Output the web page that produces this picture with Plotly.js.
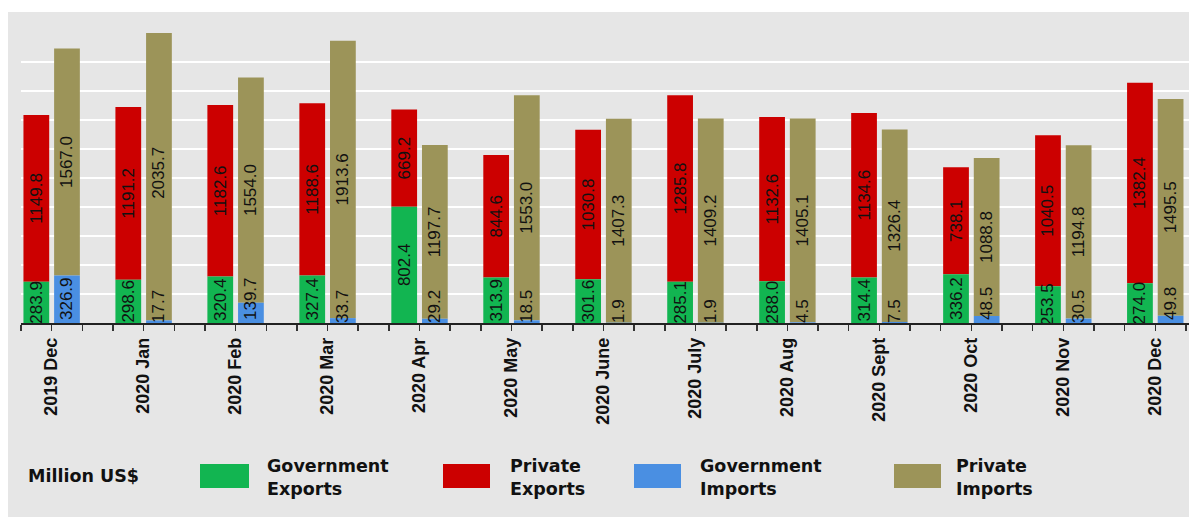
<!DOCTYPE html>
<html><head><meta charset="utf-8">
<script src="https://cdn.plot.ly/plotly-3.0.1.min.js"></script>
<style>html,body{margin:0;padding:0;background:#fff;}#chart{width:1189px;height:517px;}</style>
</head><body><div id="chart"></div>
<script>
// ---- data ----
const months = ['2019 Dec','2020 Jan','2020 Feb','2020 Mar','2020 Apr','2020 May','2020 June','2020 July','2020 Aug','2020 Sept','2020 Oct','2020 Nov','2020 Dec'];
const govExports  = [283.9, 298.6, 320.4, 327.4, 802.4, 313.9, 301.6, 285.1, 288.0, 314.4, 336.2, 253.5, 274.0];
const privExports = [1149.8, 1191.2, 1182.6, 1188.6, 669.2, 844.6, 1030.8, 1285.8, 1132.6, 1134.6, 738.1, 1040.5, 1382.4];
const govImports  = [326.9, 17.7, 139.7, 33.7, 29.2, 18.5, 1.9, 1.9, 4.5, 7.5, 48.5, 30.5, 49.8];
const privImports = [1567.0, 2035.7, 1554.0, 1913.6, 1197.7, 1553.0, 1407.3, 1409.2, 1405.1, 1326.4, 1088.8, 1194.8, 1495.5];
const seriesNames = ['Government Exports','Private Exports','Government Imports','Private Imports'];
const legendLines = [['Government','Exports'],['Private','Exports'],['Government','Imports'],['Private','Imports']];
const unitLabel = 'Million US$';

// ---- layout helpers ----
const W = 1189, H = 517;
const M = {l:21, r:0, t:33, b:194};
const PW = W - M.l - M.r, PH = H - M.t - M.b;
const px2x = p => (p - M.l) / PW;
const py2y = p => (M.t + PH - p) / PH;

const SLOTS = 3, BARW = 0.84;
const expX = months.map((m,i)=>i*SLOTS+0.5);
const impX = months.map((m,i)=>i*SLOTS+1.5);
const fmt = v => v.toFixed(1);
const labelFont = {family:'Arial, Liberation Sans, sans-serif', size:17, color:'#111'};
const colors = ['#12b551', '#cc0000', '#4a8fe2', '#9c9459'];

function barTrace(name, x, y, base, color, anchor){
  const t = {type:'bar', name:name, x:x, y:y, width:BARW,
    marker:{color:color, line:{width:0}},
    text:y.map(fmt), textposition:'inside', insidetextanchor:anchor,
    textangle:-90, constraintext:'none', insidetextfont:labelFont,
    hoverinfo:'name+y'};
  if(base) t.base = base;
  return t;
}
// private segments drawn first so the government labels overflowing upward stay visible
const traces = [
  barTrace(seriesNames[1], expX, privExports, govExports, colors[1], 'middle'),
  barTrace(seriesNames[3], impX, privImports, govImports, colors[3], 'middle'),
  barTrace(seriesNames[0], expX, govExports, null, colors[0], 'middle'),
  barTrace(seriesNames[2], impX, govImports, null, colors[2], 'start')
];

const nTicks = months.length*SLOTS - 1;
const tickvals = [], ticktext = [];
for(let v=0; v<=nTicks; v++){ tickvals.push(v); ticktext.push(v%SLOTS===1 ? months[(v-1)/SLOTS] : ''); }

const legFont = {family:'DejaVu Sans, sans-serif', size:17.5, color:'#111', weight:'bold'};
const legPos = [
  {x0:200, x1:249, tx:265},
  {x0:443, x1:490, tx:508},
  {x0:634, x1:681, tx:698},
  {x0:894, x1:941, tx:954}
];
const shapes = [{type:'rect', xref:'paper', yref:'paper', x0:px2x(8), x1:px2x(W+2), y0:py2y(H+2), y1:py2y(12),
  fillcolor:'#e6e6e6', line:{width:0}, layer:'below'}];
const annotations = [{xref:'paper', yref:'paper', x:px2x(26), y:py2y(476), xanchor:'left', yanchor:'middle',
  text:unitLabel, showarrow:false, font:legFont}];
legPos.forEach((L,i)=>{
  shapes.push({type:'rect', xref:'paper', yref:'paper', x0:px2x(L.x0), x1:px2x(L.x1), y0:py2y(488), y1:py2y(464),
    fillcolor:colors[i], line:{width:0}});
  annotations.push({xref:'paper', yref:'paper', x:px2x(L.tx), y:py2y(478), xanchor:'left', yanchor:'middle', align:'left',
    text:legendLines[i].join('<br>'), showarrow:false, font:legFont});
});

const layout = {
  width:W, height:H, margin:{l:M.l, r:M.r, t:M.t, b:M.b, pad:0},
  paper_bgcolor:'#ffffff', plot_bgcolor:'#e6e6e6',
  barmode:'overlay', showlegend:false,
  xaxis:{range:[0,38.1], tickmode:'array', tickvals:tickvals, ticktext:ticktext, tickangle:-90,
    ticks:'outside', ticklen:6, tickwidth:1.5, tickcolor:'#333',
    showline:true, linecolor:'#222', linewidth:1.5, showgrid:false, zeroline:false,
    tickfont:{family:'Arial, Liberation Sans, sans-serif', size:18, color:'#111', weight:'bold'}},
  yaxis:{range:[0,2000], tick0:0, dtick:200, showticklabels:false, ticks:'',
    showgrid:true, gridcolor:'#ffffff', gridwidth:2, zeroline:false, showline:false},
  shapes:shapes, annotations:annotations
};
Plotly.newPlot('chart', traces, layout, {staticPlot:true, displayModeBar:false});
</script>
</body></html>
